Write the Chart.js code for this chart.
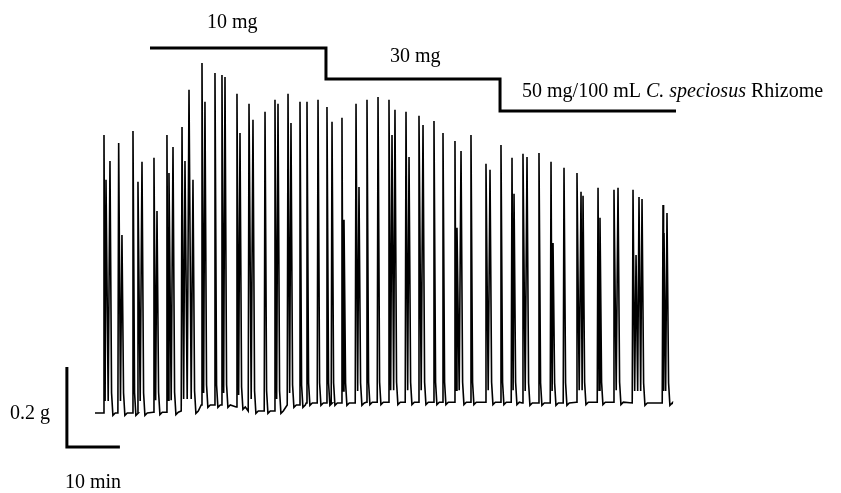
<!DOCTYPE html>
<html>
<head>
<meta charset="utf-8">
<script src="https://cdn.jsdelivr.net/npm/chart.js@4"></script>
<style>
  body { margin: 0; background: #fff; }
  #wrap { width: 841px; height: 493px; position: relative; }
</style>
</head>
<body>
<div id="wrap"><canvas id="trace"></canvas></div>
<script>
// ---------------- Data (time in min, tension in g) ----------------
// Peak times of each contraction
const peakTimes = [
  1.70, 2.08, 2.83, 4.47, 5.09, 7.17, 8.11, 8.87, 11.13, 11.70,
  13.58, 13.96, 14.72, 16.42, 16.98, 17.74, 18.49, 20.19, 20.75, 22.64,
  23.96, 24.53, 26.79, 27.36, 29.06, 29.81, 32.08, 33.96, 34.53, 36.42,
  36.98, 38.68, 40.00, 42.08, 43.77, 44.72, 46.60, 46.98, 49.25, 49.81,
  51.32, 53.40, 55.47, 56.04, 56.60, 58.68, 59.25, 61.13, 61.89, 63.96,
  65.66, 67.92, 68.30, 69.06, 70.94, 73.77, 74.53, 76.60, 78.68, 79.06,
  80.75, 81.51, 83.77, 86.04, 86.42, 88.49, 90.94, 91.70, 92.08, 94.91,
  95.28, 97.92, 98.68, 101.51, 102.08, 102.64, 103.21, 107.17, 107.36, 107.92
];
// Peak tension of each contraction
const peakValues = [
  0.695, 0.583, 0.630, 0.675, 0.445, 0.705, 0.578, 0.628, 0.638, 0.505,
  0.695, 0.600, 0.665, 0.715, 0.630, 0.808, 0.583, 0.875, 0.778, 0.850,
  0.845, 0.840, 0.798, 0.700, 0.773, 0.733, 0.753, 0.783, 0.773, 0.798,
  0.725, 0.778, 0.778, 0.783, 0.765, 0.728, 0.738, 0.483, 0.773, 0.565,
  0.783, 0.790, 0.783, 0.695, 0.758, 0.753, 0.640, 0.743, 0.720, 0.730,
  0.700, 0.680, 0.463, 0.655, 0.695, 0.623, 0.608, 0.670, 0.638, 0.548,
  0.648, 0.640, 0.650, 0.628, 0.425, 0.613, 0.600, 0.553, 0.543, 0.563,
  0.488, 0.558, 0.563, 0.558, 0.395, 0.540, 0.535, 0.520, 0.450, 0.500
];
// Resting tension
const baseTimes  = [0, 5, 10, 15, 20, 25, 28, 35, 40, 50, 60, 70, 80, 90, 100, 108.9];
const baseValues = [0, 0, 0.002, 0.005, 0.02, 0.015, 0.005, 0.02, 0.025, 0.027, 0.027, 0.027, 0.025, 0.027, 0.025, 0.022];

// Dose steps: start time of each concentration and label
const doseTimes  = [10.38, 43.58, 76.42, 109.62];
const doseLevels = [0.9125, 0.835, 0.755];
const doseLabels = ["10 mg", "30 mg", "50 mg/100 mL "];

// Scale bars
const barTime = 10;    // min
const barForce = 0.2;  // g
const barOrigin = { t: -5.3, g: -0.085 };

// ---------------- Build trace ----------------
function baseAt(t) {
  let b = baseValues[0];
  for (let i = 0; i < baseTimes.length; i++) {
    if (baseTimes[i] <= t) b = baseValues[i];
  }
  return b;
}

function buildTrace() {
  const pts = [{ x: baseTimes[0], y: baseValues[0] }];
  for (let i = 0; i < peakTimes.length; i++) {
    const t = peakTimes[i];
    const b = baseAt(t);
    const prevGap = i > 0 ? t - peakTimes[i - 1] : 99;
    const nextGap = i < peakTimes.length - 1 ? peakTimes[i + 1] - t : 99;
    if (prevGap > 0.8) pts.push({ x: t - 0.15, y: b });
    pts.push({ x: t, y: peakValues[i] });
    if (nextGap <= 0.8) {
      pts.push({ x: t + nextGap * 0.55, y: b + 0.03 });
    } else {
      pts.push({ x: t + 0.3, y: b + 0.05 });
      pts.push({ x: t + 0.55, y: b - 0.006 });
      pts.push({ x: t + 1.0, y: b });
    }
  }
  pts.push({ x: baseTimes[baseTimes.length - 1], y: baseValues[baseValues.length - 1] });
  return pts;
}

function buildDoseLine() {
  const pts = [];
  for (let i = 0; i < doseLevels.length; i++) {
    pts.push({ x: doseTimes[i], y: doseLevels[i] });
    pts.push({ x: doseTimes[i + 1], y: doseLevels[i] });
  }
  return pts;
}

const scaleBar = [
  { x: barOrigin.t, y: barOrigin.g + barForce },
  { x: barOrigin.t, y: barOrigin.g },
  { x: barOrigin.t + barTime, y: barOrigin.g }
];

// ---------------- Labels plugin ----------------
const labelsPlugin = {
  id: "labels",
  afterDraw(chart) {
    const ctx = chart.ctx;
    const xs = chart.scales.x;
    const ys = chart.scales.y;
    ctx.save();
    ctx.fillStyle = "#000";
    ctx.textBaseline = "alphabetic";
    ctx.textAlign = "left";
    const font = "20px 'Liberation Serif', 'Times New Roman', serif";
    const italic = "italic 20px 'Liberation Serif', 'Times New Roman', serif";
    ctx.font = font;

    ctx.fillText(doseLabels[0], xs.getPixelForValue(doseTimes[0]) + 57, ys.getPixelForValue(doseLevels[0]) - 20);
    ctx.fillText(doseLabels[1], xs.getPixelForValue(doseTimes[1]) + 64, ys.getPixelForValue(doseLevels[1]) - 17);

    // 50 mg label with italic species name
    let lx = xs.getPixelForValue(doseTimes[2]) + 22;
    const ly = ys.getPixelForValue(doseLevels[2]) - 14;
    ctx.fillText(doseLabels[2], lx, ly);
    lx += ctx.measureText(doseLabels[2]).width;
    ctx.font = italic;
    ctx.fillText("C. speciosus", lx, ly);
    lx += ctx.measureText("C. speciosus ").width;
    ctx.font = font;
    ctx.fillText("Rhizome", lx, ly);

    // scale bar labels
    const bx = xs.getPixelForValue(barOrigin.t);
    const by = ys.getPixelForValue(barOrigin.g);
    ctx.fillText(barForce + " g", bx - 57, by - 28);
    ctx.fillText(barTime + " min", bx - 2, by + 41);
    ctx.restore();
  }
};

// ---------------- Chart ----------------
const ctx = document.getElementById("trace").getContext("2d");
new Chart(ctx, {
  type: "line",
  data: {
    datasets: [
      {
        data: buildTrace(),
        borderColor: "#000",
        borderWidth: 1.6,
        pointRadius: 0,
        tension: 0,
        fill: false
      },
      {
        data: buildDoseLine(),
        borderColor: "#000",
        borderWidth: 3,
        pointRadius: 0,
        tension: 0,
        fill: false
      },
      {
        data: scaleBar,
        borderColor: "#000",
        borderWidth: 3,
        pointRadius: 0,
        tension: 0,
        fill: false
      }
    ]
  },
  options: {
    responsive: true,
    maintainAspectRatio: false,
    animation: false,
    layout: { padding: 0 },
    plugins: {
      legend: { display: false },
      tooltip: { enabled: false }
    },
    scales: {
      x: { type: "linear", display: false, min: -17.92, max: 140.75 },
      y: { type: "linear", display: false, min: -0.2, max: 1.0325 }
    }
  },
  plugins: [labelsPlugin]
});
</script>
</body>
</html>
